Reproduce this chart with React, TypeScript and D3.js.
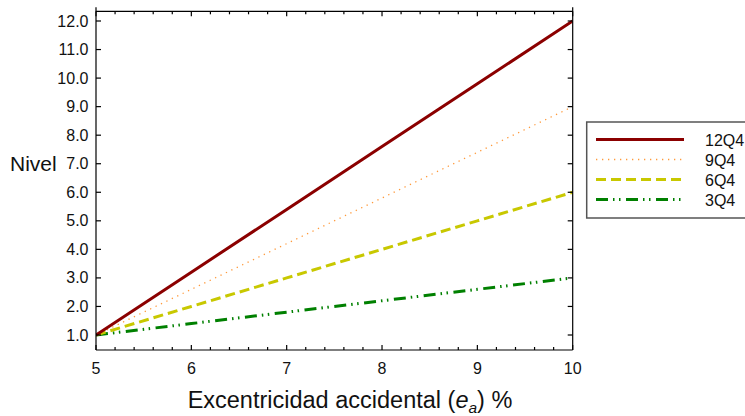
import React from "react";
import * as d3 from "d3";

const xValues = [5, 6, 7, 8, 9, 10];
const seriesNames = ["12Q4", "9Q4", "6Q4", "3Q4"];
const s12Q4 = [1.0, 3.2, 5.4, 7.6, 9.8, 12.0];
const s9Q4 = [1.0, 2.6, 4.2, 5.8, 7.4, 9.0];
const s6Q4 = [1.0, 2.0, 3.0, 4.0, 5.0, 6.0];
const s3Q4 = [1.0, 1.4, 1.8, 2.2, 2.6, 3.0];
const yTicks = [1, 2, 3, 4, 5, 6, 7, 8, 9, 10, 11, 12];
const xTicks = [5, 6, 7, 8, 9, 10];

const styles = [
  { color: "#8b0000", width: 3, dash: "" },
  { color: "#ff9a3c", width: 1.3, dash: "1.3,4.7" },
  { color: "#c8c800", width: 3, dash: "10,5" },
  { color: "#008000", width: 3, dash: "12,5,1.5,4.5,1.5,5.5" },
];

export default function App() {
  const W = 745, H = 416;
  const left = 96, right = 572.7, top = 11.3, bottom = 350;
  const x = d3.scaleLinear().domain([5, 10]).range([left, right]);
  const y = d3.scaleLinear().domain([1, 12]).range([335, 21]);
  const data = [s12Q4, s9Q4, s6Q4, s3Q4];
  const line = d3
    .line<number>()
    .x((_, i) => x(xValues[i]))
    .y((d) => y(d));
  const minor = d3.range(5, 10.0001, 0.2).filter((v) => Math.abs(v - Math.round(v)) > 1e-6);
  const font = "Liberation Sans, Arial, sans-serif";
  return (
    <svg width={W} height={H} style={{ position: "absolute", left: 0, top: 0 }} fontFamily={font}>
      <rect x={0} y={0} width={W} height={H} fill="white" />
      <defs>
        <clipPath id="plot">
          <rect x={left} y={top} width={right - left} height={bottom - top} />
        </clipPath>
      </defs>
      <g clipPath="url(#plot)">
        {data.map((d, i) => (
          <path
            key={seriesNames[i]}
            d={line(d) || ""}
            fill="none"
            stroke={styles[i].color}
            strokeWidth={styles[i].width}
            strokeDasharray={styles[i].dash}
          />
        )).reverse()}
      </g>
      {/* frame */}
      <g stroke="black" strokeWidth={1.2} fill="none">
        <line x1={left} y1={top - 4} x2={left} y2={bottom} />
        <line x1={right} y1={top - 4} x2={right} y2={bottom} />
        <line x1={left} y1={top} x2={right} y2={top} />
        <line x1={left} y1={bottom} x2={right} y2={bottom} />
        {yTicks.map((t) => (
          <g key={"y" + t}>
            <line x1={left} x2={left + 5} y1={y(t)} y2={y(t)} />
            <line x1={right} x2={right - 5} y1={y(t)} y2={y(t)} />
          </g>
        ))}
        {xTicks.map((t) => (
          <g key={"x" + t}>
            <line x1={x(t)} x2={x(t)} y1={bottom} y2={bottom - 5} />
            <line x1={x(t)} x2={x(t)} y1={top} y2={top + 5} />
          </g>
        ))}
        {minor.map((t) => (
          <g key={"m" + t}>
            <line x1={x(t)} x2={x(t)} y1={bottom} y2={bottom - 3} />
            <line x1={x(t)} x2={x(t)} y1={top} y2={top + 3} />
          </g>
        ))}
      </g>
      {yTicks.map((t) => (
        <text key={"yl" + t} x={88.5} y={y(t) + 5.5} textAnchor="end" fontSize={16} fill="#111">
          {t.toFixed(1)}
        </text>
      ))}
      {xTicks.map((t) => (
        <text key={"xl" + t} x={x(t)} y={373.5} textAnchor="middle" fontSize={16} fill="#111">
          {t}
        </text>
      ))}
      <text x={10} y={170.5} fontSize={21} fill="#111">Nivel</text>
      <text x={350} y={408} textAnchor="middle" fontSize={23.5} fill="#111">
        Excentricidad accidental (<tspan fontStyle="italic">e</tspan>
        <tspan fontStyle="italic" fontSize={15.5} dy={5}>a</tspan>
        <tspan dy={-5}>) %</tspan>
      </text>
      {/* legend */}
      <rect x={586.7} y={122} width={200} height={96} fill="white" stroke="#555" strokeWidth={1.5} />
      {seriesNames.map((n, i) => (
        <g key={"lg" + n}>
          <line
            x1={596}
            x2={684}
            y1={139.5 + i * 20}
            y2={139.5 + i * 20}
            stroke={styles[i].color}
            strokeWidth={styles[i].width}
            strokeDasharray={styles[i].dash}
          />
          <text x={705} y={145.5 + i * 20} fontSize={16} fill="#111">{n}</text>
        </g>
      ))}
    </svg>
  );
}
